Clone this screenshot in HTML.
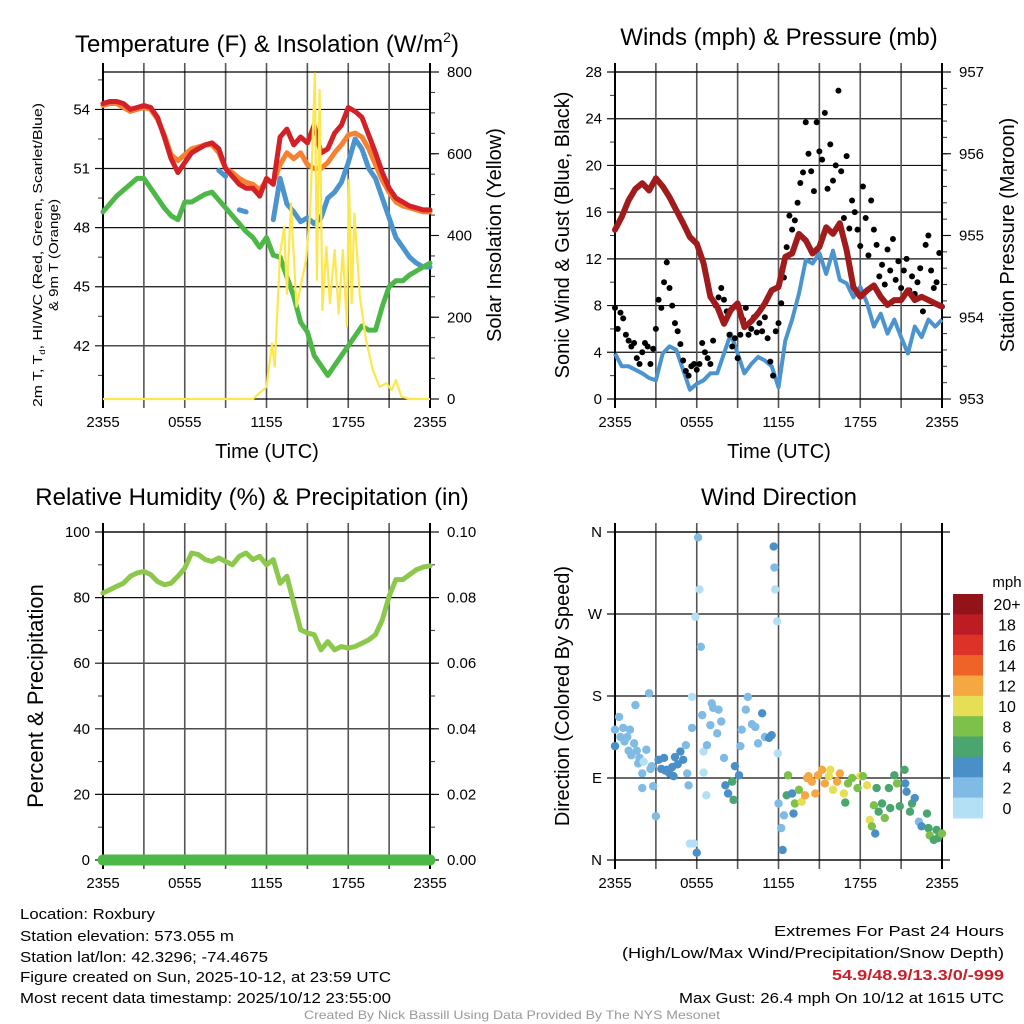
<!DOCTYPE html>
<html><head><meta charset="utf-8"><title>Roxbury Meteogram</title>
<style>
html,body{margin:0;padding:0;background:#fff;}
svg{display:block;font-family:"Liberation Sans",sans-serif;}
</style></head>
<body>
<svg id="chart" width="1024" height="1024" viewBox="0 0 1024 1024" xmlns="http://www.w3.org/2000/svg">
<rect x="0" y="0" width="1024" height="1024" fill="#fff"/>
<text x="267" y="52" font-size="24" text-anchor="middle">Temperature (F) &amp; Insolation (W/m<tspan font-size="14" dy="-10">2</tspan><tspan dy="10">)</tspan></text>
<text x="779" y="45" font-size="24" text-anchor="middle">Winds (mph) &amp; Pressure (mb)</text>
<text x="252" y="505" font-size="24" text-anchor="middle">Relative Humidity (%) &amp; Precipitation (in)</text>
<text x="779" y="505" font-size="24" text-anchor="middle">Wind Direction</text>
<text x="267" y="458" font-size="20" text-anchor="middle">Time (UTC)</text>
<text x="779" y="458" font-size="20" text-anchor="middle">Time (UTC)</text>
<text transform="translate(42,255) rotate(-90)" font-size="13" text-anchor="middle" textLength="304" lengthAdjust="spacingAndGlyphs">2m T, T<tspan font-size="8" dy="3">d</tspan><tspan dy="-3">, HI/WC (Red, Green, Scarlet/Blue)</tspan></text>
<text transform="translate(58,255) rotate(-90)" font-size="13" text-anchor="middle" textLength="112" lengthAdjust="spacingAndGlyphs">&amp; 9m T (Orange)</text>
<text transform="translate(501,235) rotate(-90)" font-size="20" text-anchor="middle">Solar Insolation (Yellow)</text>
<text transform="translate(569,235) rotate(-90)" font-size="20" text-anchor="middle">Sonic Wind &amp; Gust (Blue, Black)</text>
<text transform="translate(1014,235) rotate(-90)" font-size="20" text-anchor="middle">Station Pressure (Maroon)</text>
<text transform="translate(43,696) rotate(-90)" font-size="22" text-anchor="middle">Percent &amp; Precipitation</text>
<text transform="translate(569,696) rotate(-90)" font-size="20" text-anchor="middle">Direction (Colored By Speed)</text>
<text x="1007" y="587" font-size="15" text-anchor="middle">mph</text>
<g font-size="15">
<text x="20" y="919" textLength="135" lengthAdjust="spacingAndGlyphs">Location: Roxbury</text>
<text x="20" y="941" textLength="214" lengthAdjust="spacingAndGlyphs">Station elevation: 573.055 m</text>
<text x="20" y="962" textLength="248" lengthAdjust="spacingAndGlyphs">Station lat/lon: 42.3296; -74.4675</text>
<text x="20" y="982" textLength="371" lengthAdjust="spacingAndGlyphs">Figure created on Sun, 2025-10-12, at 23:59 UTC</text>
<text x="20" y="1003" textLength="371" lengthAdjust="spacingAndGlyphs">Most recent data timestamp: 2025/10/12 23:55:00</text>
</g>
<g font-size="15">
<text x="774" y="936" textLength="230" lengthAdjust="spacingAndGlyphs">Extremes For Past 24 Hours</text>
<text x="622" y="958" textLength="382" lengthAdjust="spacingAndGlyphs">(High/Low/Max Wind/Precipitation/Snow Depth)</text>
<text x="832" y="980" textLength="172" lengthAdjust="spacingAndGlyphs" font-weight="bold" fill="#c8202a">54.9/48.9/13.3/0/-999</text>
<text x="679" y="1003" textLength="325" lengthAdjust="spacingAndGlyphs">Max Gust: 26.4 mph On 10/12 at 1615 UTC</text>
</g>
<text x="304" y="1019" font-size="12" fill="#999" textLength="416" lengthAdjust="spacingAndGlyphs">Created By Nick Bassill Using Data Provided By The NYS Mesonet</text>
</svg>
<script>
const tempRed=[54.3,54.4,54.4,54.3,54.0,54.1,54.2,54.1,53.6,52.6,51.5,50.8,51.3,51.8,52.0,52.2,52.3,52.0,51.0,50.6,50.2,50.0,50.0,49.6,50.5,50.2,52.6,53.0,52.2,52.6,52.3,53.2,51.8,52.0,52.8,53.2,54.1,53.9,53.6,52.7,51.8,50.8,50.0,49.5,49.3,49.1,49.0,48.9,48.9];
const tempOrange=[54.2,54.3,54.3,54.1,53.9,54.0,54.1,54.0,53.5,52.7,51.7,51.4,51.7,52.0,52.1,52.2,52.2,51.8,51.0,50.8,50.5,50.3,50.2,49.9,50.4,50.3,51.2,51.8,51.5,51.8,51.2,51.0,51.0,51.3,51.8,52.2,52.7,52.8,52.6,52.0,51.2,50.4,49.8,49.3,49.1,49.0,48.9,48.8,48.8];
const tempBlue=[null,null,null,null,null,null,null,null,null,null,null,null,null,null,null,null,null,50.9,50.6,null,48.9,48.8,null,null,null,48.4,50.5,49.2,48.8,48.3,48.5,48.2,48.5,49.5,49.8,50.3,51.3,52.5,52.0,51.0,50.5,49.5,48.5,47.5,47.0,46.5,46.2,46.0,46.0];
const dewGreen=[48.8,49.2,49.6,49.9,50.2,50.5,50.5,50.0,49.5,49.0,48.6,48.4,49.3,49.3,49.5,49.7,49.8,49.4,49.0,48.6,48.2,47.8,47.5,47.0,47.5,46.6,46.5,45.5,44.5,43.2,42.7,41.5,41.0,40.5,41.0,41.5,42.0,42.5,43.0,42.8,42.8,44.0,45.0,45.3,45.3,45.6,45.8,46.0,46.2];
const solarHours=[0,11.0,12.0,12.4,12.6,13.0,13.3,13.5,13.8,14.2,14.6,14.9,15.2,15.55,15.7,15.9,16.1,16.4,16.65,17.0,17.3,17.6,17.9,18.05,18.25,18.45,18.85,19.3,19.8,20.3,20.8,21.2,21.5,21.9,22.5,24];
const solarValues=[0,0,30,137,80,360,425,260,483,228,294,343,458,804,294,763,220,376,236,368,211,368,179,541,236,458,253,146,72,30,39,22,47,6,0,0];
const pressure=[955.07,955.23,955.43,955.57,955.64,955.55,955.7,955.6,955.47,955.31,955.15,954.98,954.9,954.66,954.25,954.13,953.92,954.09,954.17,953.88,953.95,954.05,954.17,954.33,954.37,954.74,954.78,955.02,954.94,954.78,954.86,955.1,955.02,955.15,954.82,954.37,954.25,954.33,954.39,954.25,954.15,954.21,954.21,954.33,954.21,954.25,954.21,954.17,954.13];
const windSpeed=[3.9,2.8,2.8,2.5,2.2,1.8,1.6,3.9,4.5,4.2,2.5,0.8,1.3,1.6,2.2,2.2,3.9,5.6,3.9,2.2,3.0,3.6,3.3,2.8,1.0,5.0,6.8,9.0,11.9,11.6,12.5,10.7,12.7,10.2,9.9,8.7,9.6,8.2,6.2,7.3,5.6,6.8,5.3,3.9,6.2,5.3,6.8,6.2,6.8];
const windGust=[7.8,6.0,7.4,6.9,5.5,5.0,4.5,4.8,3.5,3.0,4.0,4.8,4.5,3.0,4.3,6.0,8.5,7.8,10.0,11.7,9.5,8.0,6.5,5.8,4.7,3.3,2.4,2.0,2.8,3.0,2.5,3.0,4.8,4.0,3.5,3.0,5.0,8.0,8.7,9.5,8.5,7.5,5.5,4.5,5.2,3.5,5.5,6.8,7.8,5.5,6.0,7.0,5.7,6.5,5.8,7.0,5.2,3.2,2.0,5.8,6.5,8.2,10.4,13.0,15.7,14.5,15.3,16.8,18.5,19.4,23.7,21.0,19.5,17.8,23.7,21.2,20.5,24.5,18.0,21.8,18.7,20.0,26.4,19.5,15.5,20.8,14.6,17.0,16.0,14.5,13.1,18.2,15.5,12.3,17.0,14.5,13.2,10.5,11.5,9.8,12.8,11.0,13.7,10.2,11.8,9.5,11.0,12.0,9.3,10.5,9.0,10.0,11.2,7.5,13.2,14.0,11.0,9.5,10.0,12.5];
const relHumidity=[81.4,82.4,83.4,84.4,86.5,87.5,88.0,87.0,84.9,83.9,84.4,86.5,89.0,93.6,93.1,91.6,91.0,92.1,91.0,90.0,92.6,93.6,91.6,92.6,90.0,91.6,84.4,86.5,78.3,70.2,69.2,68.7,64.1,66.6,64.1,65.1,64.6,65.1,66.1,67.1,68.7,73.2,80.4,85.5,85.5,87.0,88.5,89.3,89.7];
const precipHours=[0,24];
const precipValues=[0,0];
const dirHours=[0,0,0.3,0.4,0.6,0.7,0.9,1.0,1.1,1.2,1.4,1.5,1.6,1.7,1.8,2.0,2.0,2.1,2.3,2.5,2.6,2.7,2.8,3.0,3.2,3.4,3.6,3.7,3.8,4.0,4.2,4.3,4.4,4.6,4.8,5.0,5.2,5.3,5.4,5.65,5.65,5.5,5.8,6.0,6.1,6.2,5.9,6.3,6.4,6.5,6.7,6.5,6.75,7.0,7.1,7.2,7.5,7.6,7.8,8.0,8.1,8.3,8.6,8.7,8.8,9.1,9.2,9.3,9.6,9.75,10.05,10.3,10.5,10.8,11.0,11.3,11.5,11.65,11.7,11.75,11.9,11.95,12.0,12.2,12.3,12.4,12.6,12.7,13.0,13.1,13.2,13.5,13.7,13.95,14.1,14.2,14.45,14.7,14.9,15.2,15.4,15.7,15.8,16.0,16.3,16.5,16.8,16.9,17.1,17.4,17.8,18.0,18.2,18.5,18.7,18.85,19.0,19.1,19.2,19.35,19.6,19.8,20.1,20.2,20.5,20.7,20.9,21.25,21.3,21.4,21.65,21.8,22.0,22.3,22.5,22.9,23.0,23.1,23.4,23.6,23.7,24.0];
const dirDegrees=[143,125,157,135,145,130,135,120,143,115,128,170,120,106,112,95,79,108,121,183,100,103,81,48,110,100,112,98,99,95,102,92,113,105,119,110,126,95,82,145,179,18,18,8,354,297,267,234,159,96,71,119,126,148,172,167,139,165,152,112,82,73,86,66,103,93,125,143,165,179,149,146,128,161,135,134,137,344,321,297,262,117,62,35,11,49,71,93,73,51,62,77,64,71,90,92,86,73,93,99,84,92,99,77,86,95,73,63,84,90,79,92,92,82,44,37,60,29,79,53,62,46,79,57,93,84,59,99,84,75,53,62,68,42,37,51,35,27,22,33,24,29];
const dirSpeeds=[3,5,3,3,3,3,3,3,3,3,3,3,3,3,3,3,3,1,3,3,3,3,3,3,5,5,5,5,5,5,5,5,5,5,5,5,3,3,3,3,1,1,1,5,3,1,1,3,3,1,1,1,3,3,3,3,3,3,3,3,5,5,7,7,5,5,3,3,3,3,3,3,3,5,3,5,5,5,3,1,1,1,3,3,5,3,7,9,5,5,9,9,11,13,13,13,13,13,13,13,13,11,11,11,13,13,11,7,9,9,9,11,9,11,11,9,9,5,7,7,7,9,7,7,7,9,7,7,5,5,7,7,5,3,5,7,7,9,7,7,7,9,7];
const xTickLabels=["2355","0555","1155","1755","2355"];
const colorbarLabels=["20+","18","16","14","12","10","8","6","4","2","0"];
const colorbarColors=["#921419","#bd1c25","#dc3228","#ef6228","#f5a742","#e6df55","#7dc04a","#4aa56e","#4a8fc8","#7fbbe5","#b3e0f5"];

const NS="http://www.w3.org/2000/svg";
const svg=document.getElementById('chart');
function mk(tag,attrs,parent){const e=document.createElementNS(NS,tag);for(const k in attrs)e.setAttribute(k,attrs[k]);(parent||svg).appendChild(e);return e;}
function linScale(d0,d1,r0,r1){return v=>r0+(v-d0)/(d1-d0)*(r1-r0);}

const boxes={
 temp:{x0:103,x1:430,y0:72,y1:399},
 wind:{x0:615,x1:942,y0:72,y1:399},
 rh:{x0:103,x1:430,y0:532,y1:860},
 dir:{x0:615,x1:942,y0:532,y1:860}
};

function frame(name,b,left,right,gridRight){
  const g=mk('g',{});
  
  
  const ly=linScale(left.min,left.max,b.y1,b.y0);
  left.minor.forEach(v=>{const t=mk('line',{x1:b.x0-5,x2:b.x0,y1:ly(v),y2:ly(v),stroke:'#333','stroke-width':1},g);
    
    });
  left.major.forEach((v,i)=>{const t=mk('line',{x1:b.x0-8,x2:b.x1+(gridRight||0),y1:ly(v),y2:ly(v),stroke:'#111','stroke-width':1.2},g);
    
    
    const tx=mk('text',{x:b.x0-13,y:ly(v)+5,'font-size':15,'text-anchor':'end'},g);
    tx.textContent=left.labels[i];
    
    });
  if(right){
    const ry=linScale(right.min,right.max,b.y1,b.y0);
    right.minor.forEach(v=>{const t=mk('line',{x1:b.x1,x2:b.x1+5,y1:ry(v),y2:ry(v),stroke:'#333','stroke-width':1},g);
      
      });
    right.major.forEach((v,i)=>{const t=mk('line',{x1:b.x1,x2:b.x1+9,y1:ry(v),y2:ry(v),stroke:'#111','stroke-width':1.2},g);
      
      
      const tx=mk('text',{x:b.x1+17,y:ry(v)+5,'font-size':15},g);
      tx.textContent=right.labels[i];
      
      });
  }
  const xs=linScale(0,24,b.x0,b.x1);
  for(let h=0;h<=24;h+=3){
    const edge=(h===0||h===24);
    const t=mk('line',{x1:xs(h),x2:xs(h),y1:b.y0-9,y2:b.y1+9,stroke:edge?'#000':'#555','stroke-width':edge?2:1.6},g);
    
    
  }
  xTickLabels.forEach((lab,i)=>{const tx=mk('text',{x:xs(i*6),y:b.y1+28,'font-size':15,'text-anchor':'middle'},g);
    tx.textContent=lab;
    
    });
  const top=mk('line',{x1:b.x0,x2:b.x1,y1:b.y0,y2:b.y0,stroke:'#000','stroke-width':1.3},g);
  
  
  const bot=mk('line',{x1:b.x0,x2:b.x1,y1:b.y1,y2:b.y1,stroke:'#000','stroke-width':1.3},g);
  
  
  return {xs,ly};
}
function range(a,b,s){const r=[];for(let v=a;v<=b+1e-9;v+=s)r.push(+v.toFixed(4));return r;}
function pathFrom(xsArr,ysArr){let d='',pen=false;for(let i=0;i<xsArr.length;i++){if(ysArr[i]==null||isNaN(ysArr[i])){pen=false;continue;}d+=(pen?'L':'M')+xsArr[i].toFixed(1)+','+ysArr[i].toFixed(1);pen=true;}return d;}
function halfHourSeries(arr,xs,ys){return pathFrom(arr.map((v,i)=>xs(i*0.5)),arr.map(v=>v==null?null:ys(v)));}

(function(){
 const b=boxes.temp;
 const a=frame('temperature',b,{min:39.3,max:55.9,major:[42,45,48,51,54],minor:[40.5,43.5,46.5,49.5,52.5,55.5],labels:['42','45','48','51','54']},
   {min:0,max:800,major:[0,200,400,600,800],minor:range(0,800,50),labels:['0','200','400','600','800']});
 const sy=linScale(0,800,b.y1,b.y0+3);
 const lines=[[tempOrange,'#f58232','orange-9m-temp-line'],[tempRed,'#d42027','red-2m-temp-line'],[tempBlue,'#4b94d0','blue-heat-index-line'],[dewGreen,'#4db848','green-dewpoint-line']];
 lines.forEach(L=>{const p=mk('path',{d:halfHourSeries(L[0],a.xs,a.ly),fill:'none',stroke:L[1],'stroke-width':5,'stroke-linejoin':'round','stroke-linecap':'round'});
   
   });
 const sp=mk('path',{d:pathFrom(solarHours.map(a.xs),solarValues.map(sy)),fill:'none',stroke:'#fde74c','stroke-width':2.2,'stroke-linejoin':'round'});
 
 
})();

(function(){
 const b=boxes.wind;
 const a=frame('winds',b,{min:0,max:28,major:range(0,28,4),minor:range(2,26,4),labels:range(0,28,4).map(String)},
   {min:953,max:957,major:[953,954,955,956,957],minor:range(953,957,0.2),labels:['953','954','955','956','957']});
 const py=linScale(953,957,b.y1,b.y0);
 const w=mk('path',{d:halfHourSeries(windSpeed,a.xs,a.ly),fill:'none',stroke:'#4b94d0','stroke-width':4,'stroke-linejoin':'round'});
 
 
 const gg=mk('g',{});
 
 
 windGust.forEach((v,i)=>{const c=mk('circle',{cx:a.xs(i*0.2),cy:a.ly(v),r:3,fill:'#000'},gg);
   
   });
 const p=mk('path',{d:halfHourSeries(pressure,a.xs,py),fill:'none',stroke:'#a01c1c','stroke-width':6,'stroke-linejoin':'round','stroke-linecap':'round'});
 
 
})();

(function(){
 const b=boxes.rh;
 const a=frame('humidity',b,{min:0,max:100,major:range(0,100,20),minor:range(10,90,20),labels:range(0,100,20).map(String)},
   {min:0,max:0.1,major:range(0,0.1,0.02),minor:range(0.01,0.09,0.01),labels:['0.00','0.02','0.04','0.06','0.08','0.10']});
 const py=linScale(0,0.1,b.y1,b.y0);
 const r=mk('path',{d:halfHourSeries(relHumidity,a.xs,a.ly),fill:'none',stroke:'#8cc84b','stroke-width':5,'stroke-linejoin':'round','stroke-linecap':'round'});
 
 
 const pp=mk('path',{d:pathFrom(precipHours.map(a.xs),precipValues.map(py)),fill:'none',stroke:'#4db848','stroke-width':11,'stroke-linecap':'round'});
 
 
})();

(function(){
 const b=boxes.dir;
 const a=frame('direction',b,{min:0,max:360,major:[0,90,180,270,360],minor:[],labels:['N','E','S','W','N']},null,8);
 function colorFor(s){const idx=Math.min(10,Math.floor(s/2));return colorbarColors[10-idx];}
 const g=mk('g',{});
 
 
 dirHours.forEach((h,i)=>{const c=mk('circle',{cx:a.xs(h),cy:a.ly(dirDegrees[i]),r:4.2,fill:colorFor(dirSpeeds[i])},g);
   
   });
 const cb=mk('g',{});
 
 
 const h=(818-594)/colorbarColors.length;
 colorbarColors.forEach((c,i)=>{const r=mk('rect',{x:953,y:594+i*h,width:30,height:h+0.5,fill:c},cb);
   
   
   const t=mk('text',{x:1007,y:594+i*h+h/2+6,'font-size':16,'text-anchor':'middle'},cb);
   t.textContent=colorbarLabels[i];
   
   });
})();
</script>
</body></html>
